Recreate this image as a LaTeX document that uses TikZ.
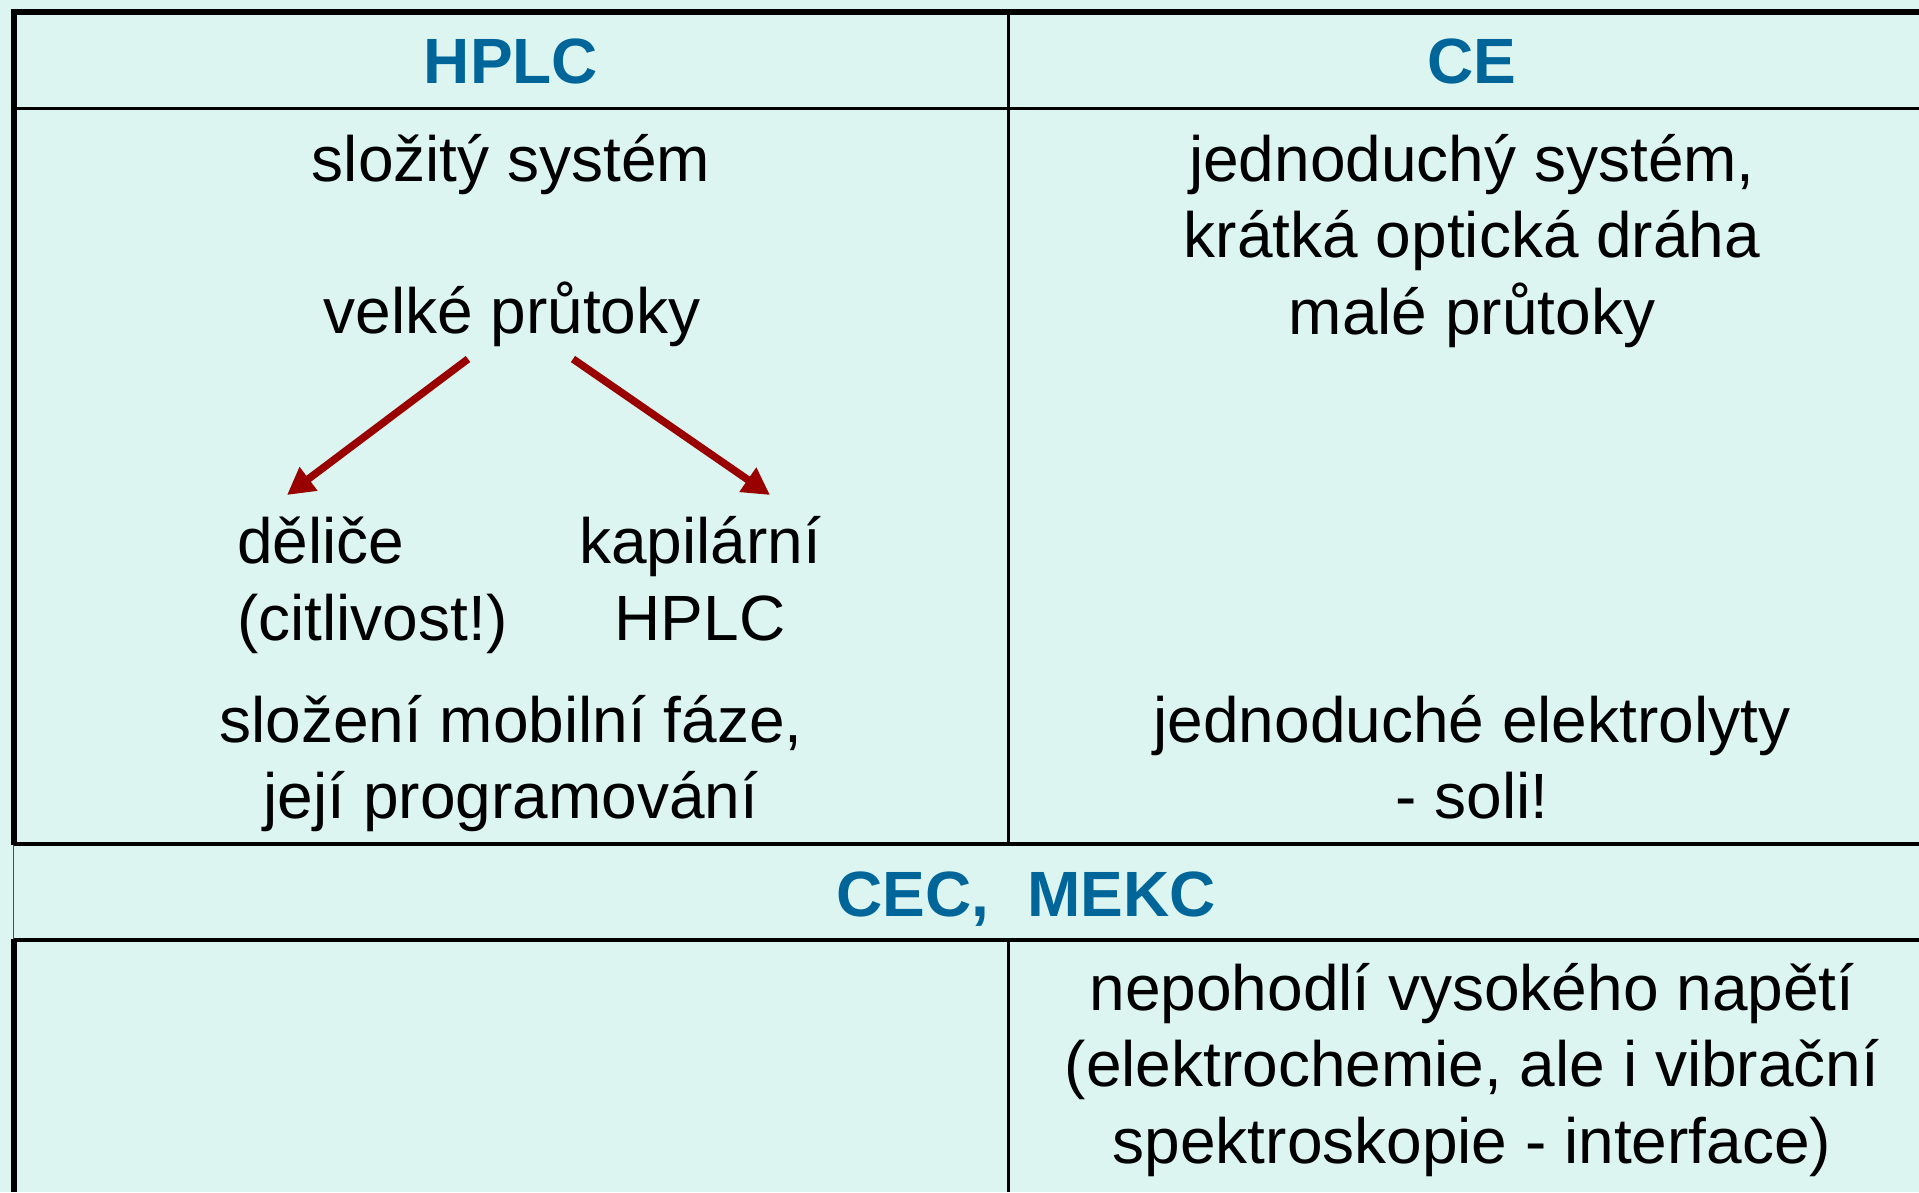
\documentclass[tikz,border=0pt]{standalone}
\usepackage{fontspec}
\setmainfont{Liberation Sans}
\usetikzlibrary{arrows.meta}
\definecolor{bgcol}{RGB}{220,245,241}
\definecolor{hdrcol}{RGB}{0,102,153}
\definecolor{arrcol}{RGB}{153,0,0}
\begin{document}
\begin{tikzpicture}[x=1pt,y=-1pt,
  txt/.style={font=\fontsize{64}{76.5}\selectfont, inner sep=0pt, anchor=base, text=black},
  hdr/.style={font=\fontsize{64}{76.5}\selectfont\bfseries, inner sep=0pt, anchor=base, text=hdrcol},
  outerline/.style={line width=6pt, black},
  thinline/.style={line width=3pt, black},
  rowline/.style={line width=3.2pt, black},
  faintline/.style={line width=1.4pt, black!70},
  redarrow/.style={line width=7.5pt, arrcol, -{Triangle[length=27pt,width=28pt]}}]
\fill[bgcol] (0,0) rectangle (1919,1192);
\useasboundingbox (0,0) rectangle (1919,1192);
% grid
\draw[thinline] (14,108) -- (1919,108);
\draw[thinline] (1008,12) -- (1008,844);
\draw[thinline] (1008,940) -- (1008,1192);
\draw[rowline] (14,844) -- (1919,844);
\draw[rowline] (14,940) -- (1919,940);
\draw[faintline] (13.5,844) -- (13.5,940);
\draw[outerline] (14,9) -- (14,845);
\draw[outerline] (14,939) -- (14,1192);
\draw[outerline] (11,12) -- (1919,12);
% headers
\node[hdr] (hplc) at (511,83) {HPLC};
\node[hdr] (ce) at (1472,83) {CE};
\node[hdr] (cec) at (1026,916) {CEC,\hspace{38pt}MEKC};
% HPLC column (multi-line nodes: base = last line)
\node[txt] (slozity) at (511,181) {složitý systém};
\node[txt] (velke) at (512,333) {velké průtoky};
\node[txt, anchor=base west, align=left] (delice) at (237,640) {děliče\\(citlivost!)};
\node[txt, align=center] (kapil) at (700,640) {kapilární\\HPLC};
\node[txt, align=center] (slozeni) at (511,818.5) {složení mobilní fáze,\\její programování};
% CE column
\node[txt, align=center] (jedn) at (1472,334) {jednoduchý systém,\\krátká optická dráha\\malé průtoky};
\node[txt, align=center] (elektr) at (1472,818.5) {jednoduché elektrolyty\\- soli!};
\node[txt, align=center] (nepoh) at (1472,1163) {nepohodlí vysokého napětí\\(elektrochemie, ale i vibrační\\spektroskopie - interface)};
% arrows
\coordinate (lstart) at (468,359);
\coordinate (ltip) at (287,495);
\coordinate (rstart) at (573,359);
\coordinate (rtip) at (770,495);
\draw[redarrow] (lstart) -- (ltip);
\draw[redarrow] (rstart) -- (rtip);
\end{tikzpicture}
\end{document}
